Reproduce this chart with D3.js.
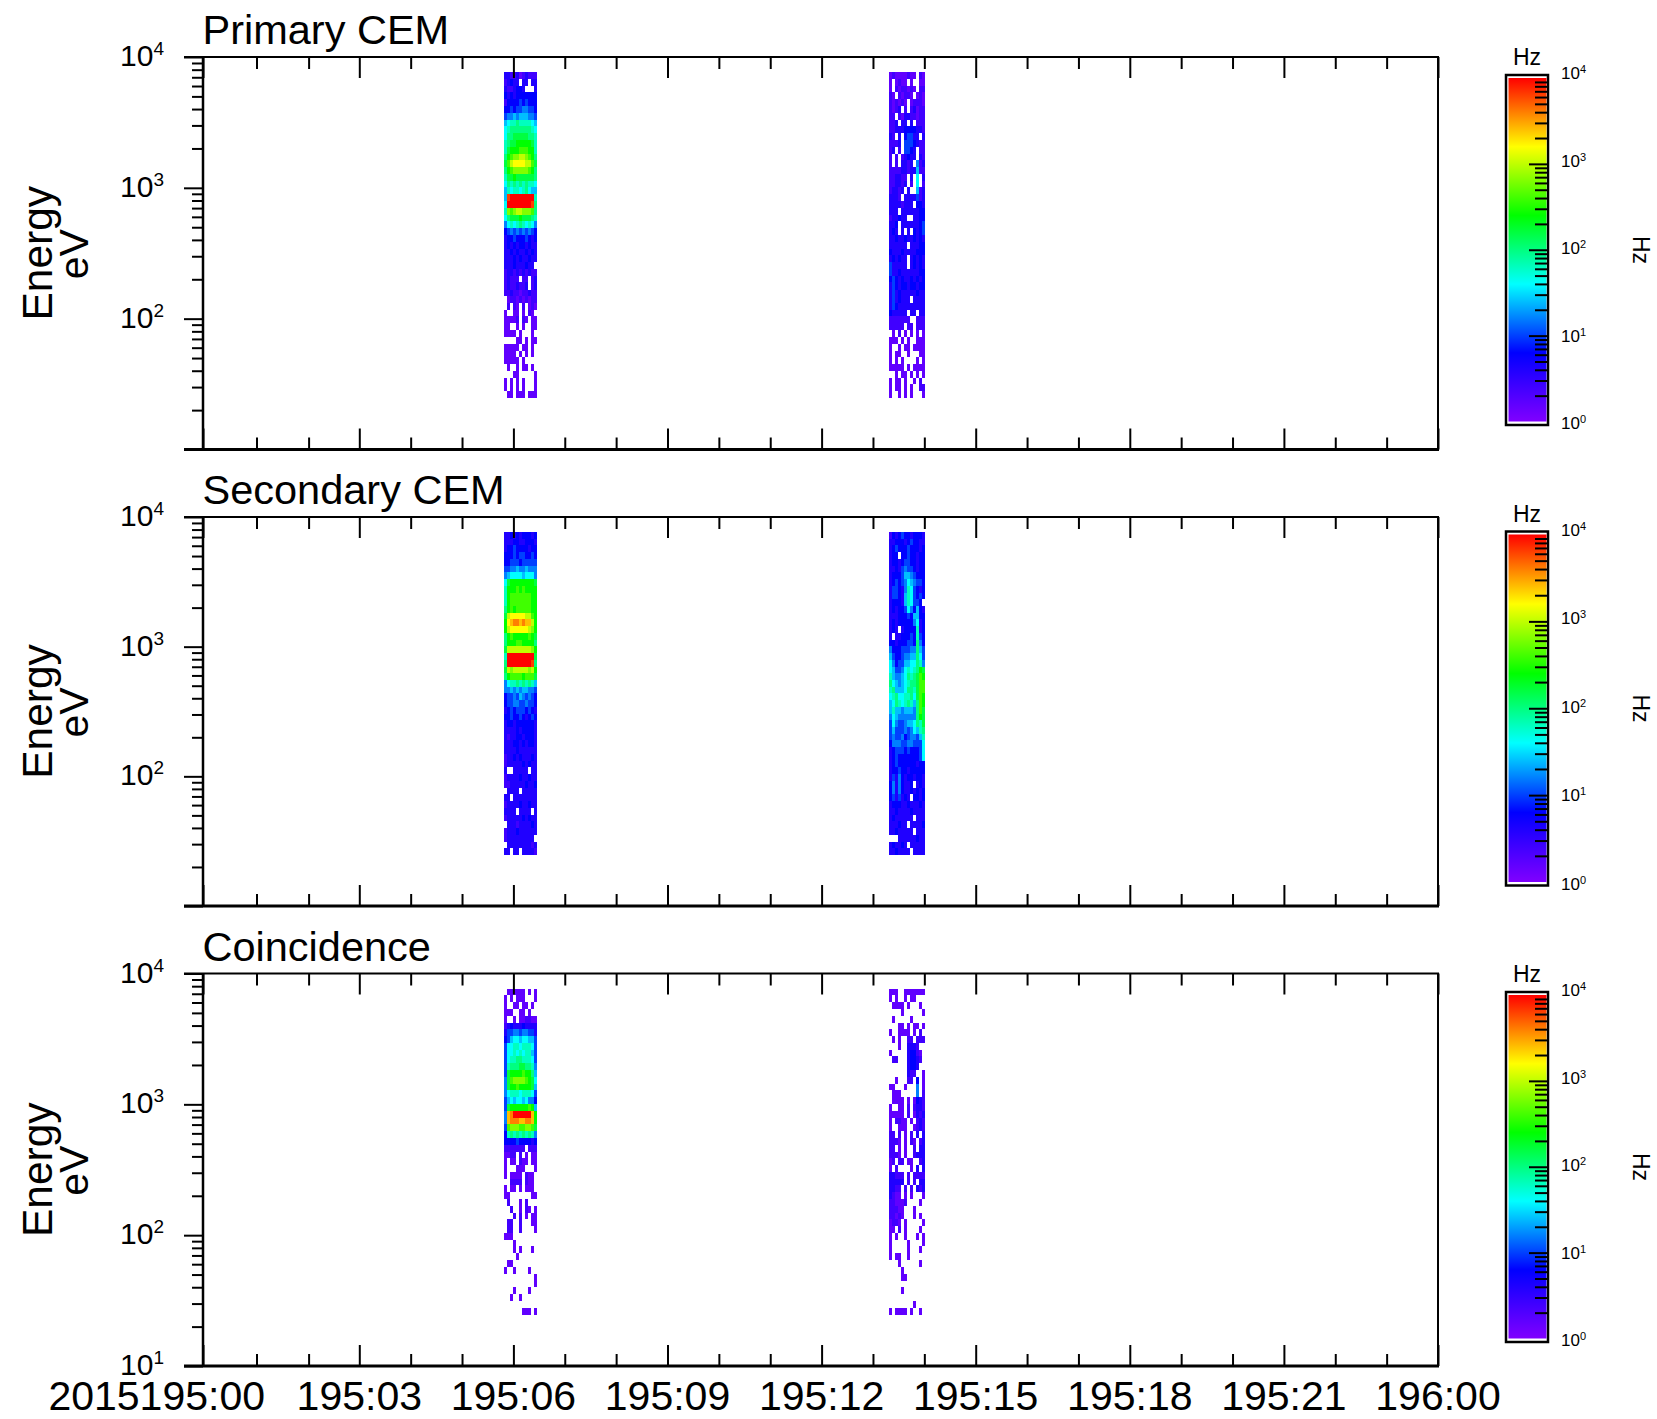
<!DOCTYPE html>
<html>
<head>
<meta charset="utf-8">
<script src="https://d3js.org/d3.v7.min.js"></script>
<style>
  body { margin: 0; background: #fff; }
  text { font-family: "Liberation Sans", Arial, sans-serif; fill: #000; }
</style>
</head>
<body>
<div id="chart"></div>
<script>
// energy channel edges (eV), top to bottom
var energyEdges = [7674, 6808, 6044, 5362, 4758, 4221, 3746, 3323, 2949, 2616, 2322, 2060, 1828,
  1622, 1439, 1277, 1133, 1006, 892, 792, 702, 623, 553, 491, 436, 386, 343, 304, 270, 240, 212,
  189, 167, 148, 132, 117, 104, 92, 82, 72.5, 64.3, 57.1, 50.7, 44.9, 39.9, 35.4, 31.4, 27.9, 24.7];

// sweep time edges (minutes after 195:00)
var timesA = [5.82, 5.88, 5.94, 6.00, 6.05, 6.11, 6.17, 6.23, 6.29, 6.35, 6.40, 6.46];
var timesB = [13.31, 13.37, 13.43, 13.49, 13.54, 13.60, 13.66, 13.72, 13.78, 13.84, 13.89, 13.95, 14.01];

// count rates: one char per cell, base 36, in steps of 0.2 decades of Hz. "." = no counts
var primaryA = ["33223123222", "23433.33.33", "3223443...3", "43434444444", "24444545444", "44545566554",
  "56676777665", "7899a999987", "89aaaaaaa98", "8aabbbbbaa9", "9abbcccccb9", "9bcccdddcc9",
  "acdeeffedca", "bdfggggffdb", "acdeeeeedca", "9bbcbbbbbba", "8a9a9a9a998", "7989989a877",
  "7jkkkkkkkk9", "8kkkkkkkkja", "9edeffeeeda", "8abbbcbbba9", "68989a98986", "45656565654",
  "34454445434", "34343443433", "33434334343", "33343433433", "3334333433.", "23323232322",
  "23222.22.23", "23223223.23", "22322122322", ".1221212122", ".2.21.2.121", "1..11.1.21.",
  "11112.21.11", "11..1.1..11", "1111.1...1.", "....11.1.11", "11111.11.1.", "1111.1.1.1.",
  "11111.1....", ".1..1.11.1.", "...11.....1", "1.1.1.1...1", "1.1.1.1...1", ".11.111.111"];
var primaryB = ["121111211.21", "1.1211.1..11", "1.2122121.22", "21.21221.121", "212121.12221", "2123.2.23122",
  "22.213322122", "223.33.3.222", "223334444332", "32.3.45533.3", "2223.5554322", "23.2.5543.22",
  "2.2.23433.32", "2.2.3323.623", "222233233722", "223322.3.8.3", "223323.2.8.2", "23323.3..723",
  "3332.3333523", "33332333.443", "333.33333344", "233433..3344", "334.33333345", "343.3.3.4345",
  "334334334343", "333333.33344", "433343333444", "343433.34343", "533333.34343", "533433333344",
  "454343343434", "354344344344", "353433333433", "3534333.3333", "354333333333", "433333.33.33",
  "2222222..222", "22222.22.222", ".1.2.1.1.1.1", "111.1.1..111", "1..1.11.1111", "1.11..1...11",
  "1.1.1....1.1", "11111.1.1111", "..1.11.1.1.1", "1.11.1..1.2.", "1.11.1.1..22", "1..1.1.1...1"];
var secondaryA = ["33434344434", "33344334443", "34454444344", "44454554454", "44555455555", "55667667666",
  "67888878886", "8bccccccccb", "9cccdcdcccc", "9cdddddddcc", "9cdddddddcc", "acdcdddddcc",
  "bfgggggffdc", "cghiihihhfc", "cfggggggfec", "acdcccccdcb", "acccddcccca", "bffffffffec",
  "9kkkkkkkkkb", "akkkkkkkkja", "bfefffffefc", "acddddcdddb", "6899a9a9a97", "66767677665",
  "45565765654", "45566556554", "34545554543", "44544543454", "34434444443", "33334344443",
  "32334434443", "33344343443", "33334333333", "23343433343", "23333343433", "3..33333.33",
  "23333433433", "22333334334", ".3333.33333", "33.33333333", "23333433433", "3333.3333.3",
  "23333343433", ".3332333343", "23334333333", "2333333333.", ".3333333323", "33.33.33332"];
var secondaryB = ["243454434443", "334443454433", "345444544434", "344.44544344", "344345544344", "334356554344",
  "344457765444", "345456876554", "355436985434", "355437985454", "34443798554.", "343445864743",
  "333444547744", "343444446834", "343.34444934", "3.3344454954", "443444554a64", "644455566a75",
  "754456677a85", "864557788a96", "875568989acb", "976678a9abdc", "a876789aabdd", "9a7778aa9bdd",
  "89a8899a8bdc", "78a989a97adc", "797767776adb", "687666666acb", "586556778a9b", "57555656879a",
  "565564566579", "466655665558", "345554544458", "345444444458", "345444444344", "344544344444",
  "353643443443", "46364334.343", "463643343434", "4535343.4434", "344433433343", "334333343333",
  "34333333.333", "333433.33334", "33433333.333", "...333333433", "343343.33333", "3343333.3333"];
var coincA = [".111111.1.1", "1.1.111...1", "1..11.11.1.", "111..11.1..", "1..1.112211", "23433343333",
  "35566566553", "45788788775", "58899899985", "58898989975", "5899aa99985", "59aaabbaa96",
  "5bccccdcca7", "6bdeeeedcb8", "6bccdccccb7", "68999899985", "57878878664", "5bccccccdc7",
  "6hikkkkkkhc", "6hiiihhiihc", "5deeeddeedb", "49a9a9a9a96", "44445444434", "2222222.222",
  "1122.2.1.11", "1.11.211.11", "1...111...1", "1.1111.211.", "..2222.211.", "1.11.1.111.",
  "11.......11", ".2...1.2...", "..2..1.21.1", "...2.2.1.11", ".22..2...11", ".22..2....1",
  "111........", "...1.......", "...1.1...1.", "....1......", ".11........", "1..1....1..",
  "..........1", "..........1", "...1....1..", "..1..1.....", "...........", "......111.1"];
var coincB = ["111..1111111", "1.1..1.11...", ".1111.1...1.", "....1......1", ".1.....1....", "...11.1.11.1",
  "1..1111.1.2.", ".1.1..22.222", "...1..3332..", "1.....34421.", ".22...34432.", "......3443..",
  "......322..1", "..1...22.4.1", "11...1...6.1", ".111.....6.2", ".1111.1.1432", "1..11.2.2332",
  "11111.2.1323", "1.2211.1.232", "1..111..1232", "22.2.1.2.3.3", "2221.1.21.23", "22.1.1..2.33",
  "2221.1..2333", "12.22.11..23", "1.2....1.3.3", "33222.2.2222", "33333.2.2.33", "3322.2.2.323",
  "3211.1.1...1", "221112....1.", "22211...1...", "22121...1.1.", "1221.1.....1", "11.2.1....1.",
  "1.1..1...1.1", "1.....1....1", "1.....1...1.", "1.11..1.....", "...1......1.", "....1.......",
  "....11......", "............", "....1.......", "............", "........1...", "1.1111.1..1."];

var panelTitles = ["Primary CEM", "Secondary CEM", "Coincidence"];
var panelBlocks = [[primaryA, primaryB], [secondaryA, secondaryB], [coincA, coincB]];
var xMajor = [0, 3, 6, 9, 12, 15, 18, 21, 24];
var xLabels = ["2015195:00", "195:03", "195:06", "195:09", "195:12", "195:15", "195:18", "195:21", "196:00"];
var xMinor = [1, 2, 4, 5, 7, 8, 10, 11, 13, 14, 16, 17, 19, 20, 22, 23];
var yDecades = [10000, 1000, 100, 10];
var yMinor = [9000, 8000, 7000, 6000, 5000, 4000, 3000, 2000, 900, 800, 700, 600, 500, 400, 300, 200,
  90, 80, 70, 60, 50, 40, 30, 20];
var barDecades = [10000, 1000, 100, 10, 1];
var barMinor = [9000, 8000, 7000, 6000, 5000, 4000, 3000, 2000, 900, 800, 700, 600, 500, 400, 300, 200,
  90, 80, 70, 60, 50, 40, 30, 20, 9, 8, 7, 6, 5, 4, 3, 2];
var colorLevels = [0, 0.8, 1.6, 2.4, 3.2, 4];
var colorStops = ["#8000ff", "#0000ff", "#00ffff", "#00ff00", "#ffff00", "#ff0000"];

// layout
var width = 1657;
var height = 1419;
var plotLeft = 203;
var plotRight = 1438;
var plotTop = [57, 517, 973.5];
var plotBottom = [449.5, 906, 1366];
var barTop = [75, 531.5, 992];
var barBottom = [425, 885.5, 1342];
var barLeft = 1506;
var barRight = 1548;
var levelStep = 0.2;

var svg = d3.select("#chart").append("svg")
  .attr("width", width)
  .attr("height", height)
  .style("display", "block");

// the first three minutes of the original axis are spaced a little wider
var xScale = d3.scaleLinear()
  .domain([0, 1, 2, 3, 24])
  .range([plotLeft, 256.5, 308.6, 359.3, plotRight]);
var colorScale = d3.scaleLinear().domain(colorLevels).range(colorStops);

// one shared gradient for the three color bars
var gradient = svg.append("defs").append("linearGradient")
  .attr("id", "rainbow")
  .attr("x1", 0).attr("y1", 1).attr("x2", 0).attr("y2", 0);
colorLevels.forEach(function(level, i) {
  gradient.append("stop")
    .attr("offset", level / 4)
    .attr("stop-color", colorStops[i]);
});

function styleTicks(g, strokeWidth) {
  g.select(".domain").remove();
  g.selectAll("line").attr("stroke", "#000").attr("stroke-width", strokeWidth);
  g.selectAll("text").remove();
}

// "10" with a raised exponent
function powerLabel(g, x, y, value, size, supSize, rise) {
  var label = g.append("text")
    .attr("x", x)
    .attr("y", y)
    .attr("font-size", size)
    .text("10");
  label.append("tspan")
    .attr("font-size", supSize)
    .attr("dy", -rise)
    .text(Math.round(Math.log10(value)));
}

function drawPanel(p) {
  var top = plotTop[p];
  var bottom = plotBottom[p];
  var yScale = d3.scaleLog().domain([10, 10000]).range([bottom, top]);
  var g = svg.append("g").attr("class", "panel");

  // spectrogram cells
  panelBlocks[p].forEach(function(block, b) {
    var times = b == 0 ? timesA : timesB;
    var rows = g.append("g").selectAll("g")
      .data(block)
      .enter().append("g");
    rows.selectAll("rect")
      .data(function(row, r) {
        return row.split("").map(function(ch, c) { return {ch: ch, r: r, c: c}; })
                  .filter(function(d) { return d.ch != "."; });
      })
      .enter().append("rect")
      .attr("x", function(d) { return xScale(times[d.c]); })
      .attr("width", function(d) { return xScale(times[d.c + 1]) - xScale(times[d.c]); })
      .attr("y", function(d) { return yScale(energyEdges[d.r]); })
      .attr("height", function(d) { return yScale(energyEdges[d.r + 1]) - yScale(energyEdges[d.r]); })
      .attr("fill", function(d) { return colorScale(parseInt(d.ch, 36) * levelStep); })
      .attr("shape-rendering", "crispEdges");
  });

  // x ticks, top and bottom
  g.append("g").attr("transform", "translate(0," + top + ")")
    .call(d3.axisBottom(xScale).tickValues(xMajor).tickSize(21).tickFormat(""))
    .call(styleTicks, 2);
  g.append("g").attr("transform", "translate(0," + top + ")")
    .call(d3.axisBottom(xScale).tickValues(xMinor).tickSize(12).tickFormat(""))
    .call(styleTicks, 2);
  g.append("g").attr("transform", "translate(0," + bottom + ")")
    .call(d3.axisTop(xScale).tickValues(xMajor).tickSize(21).tickFormat(""))
    .call(styleTicks, 2);
  g.append("g").attr("transform", "translate(0," + bottom + ")")
    .call(d3.axisTop(xScale).tickValues(xMinor).tickSize(12).tickFormat(""))
    .call(styleTicks, 2);

  // y ticks
  g.append("g").attr("transform", "translate(" + plotLeft + ",0)")
    .call(d3.axisLeft(yScale).tickValues(yDecades).tickSize(19).tickFormat(""))
    .call(styleTicks, 2);
  g.append("g").attr("transform", "translate(" + plotLeft + ",0)")
    .call(d3.axisLeft(yScale).tickValues(yMinor).tickSize(11).tickFormat(""))
    .call(styleTicks, 2);

  // frame
  g.append("line").attr("x1", plotLeft - 19).attr("x2", plotRight + 1).attr("y1", top).attr("y2", top)
    .attr("stroke", "#000").attr("stroke-width", 2);
  g.append("line").attr("x1", plotLeft - 19).attr("x2", plotRight + 1).attr("y1", bottom).attr("y2", bottom)
    .attr("stroke", "#000").attr("stroke-width", 3);
  g.append("line").attr("x1", plotLeft).attr("x2", plotLeft).attr("y1", top).attr("y2", bottom)
    .attr("stroke", "#000").attr("stroke-width", 2.5);
  g.append("line").attr("x1", plotRight).attr("x2", plotRight).attr("y1", top).attr("y2", bottom)
    .attr("stroke", "#000").attr("stroke-width", 2);

  // y tick labels, only the last panel labels 10^1
  yDecades.forEach(function(v) {
    if (v == 10 && p != 2) return;
    powerLabel(g, 120, yScale(v) + 9, v, 30, 19, 11);
  });

  g.append("text")
    .attr("x", plotLeft - 0.5)
    .attr("y", top - 13)
    .attr("font-size", 41.5)
    .text(panelTitles[p]);

  var mid = (top + bottom) / 2;
  g.append("text")
    .attr("transform", "translate(52," + mid + ") rotate(-90)")
    .attr("text-anchor", "middle")
    .attr("font-size", 42.5)
    .text("Energy");
  g.append("text")
    .attr("transform", "translate(88," + (mid + 1) + ") rotate(-90)")
    .attr("text-anchor", "middle")
    .attr("font-size", 41)
    .text("eV");

  // color bar
  var y0 = barTop[p];
  var y1 = barBottom[p];
  var cb = svg.append("g").attr("class", "colorbar");
  var cScale = d3.scaleLog().domain([1, 10000]).range([y1 - 3.5, y0 + 3]);
  var cLabel = d3.scaleLog().domain([1, 10000]).range([y1 + 4, y0 + 4]);
  cb.append("rect")
    .attr("x", barLeft).attr("y", y0)
    .attr("width", barRight - barLeft).attr("height", y1 - y0)
    .attr("fill", "#fff").attr("stroke", "#000").attr("stroke-width", 2.5);
  cb.append("rect")
    .attr("x", barLeft + 2.5).attr("y", y0 + 3)
    .attr("width", barRight - barLeft - 4).attr("height", y1 - y0 - 6.5)
    .attr("fill", "url(#rainbow)");
  cb.append("g").attr("transform", "translate(" + (barRight - 1) + ",0)")
    .call(d3.axisLeft(cScale).tickValues(barDecades.slice(1, 4)).tickSize(18).tickFormat(""))
    .call(styleTicks, 2);
  cb.append("g").attr("transform", "translate(" + (barRight - 1) + ",0)")
    .call(d3.axisLeft(cScale).tickValues(barMinor).tickSize(12).tickFormat(""))
    .call(styleTicks, 2);
  barDecades.forEach(function(v) {
    powerLabel(cb, 1561, cLabel(v), v, 17, 11, 6);
  });
  cb.append("text")
    .attr("x", (barLeft + barRight) / 2)
    .attr("y", y0 - 10)
    .attr("text-anchor", "middle")
    .attr("font-size", 23)
    .text("Hz");
  cb.append("text")
    .attr("transform", "translate(1633," + ((y0 + y1) / 2) + ") rotate(90)")
    .attr("text-anchor", "middle")
    .attr("font-size", 23)
    .text("Hz");
}

d3.range(panelTitles.length).forEach(drawPanel);

// bottom time labels, the long first label ends where "195:00" would
svg.append("g").selectAll("text")
  .data(xMajor)
  .enter().append("text")
  .attr("x", function(d) { return d == 0 ? xScale(d) + 62 : xScale(d); })
  .attr("y", 1410)
  .attr("text-anchor", function(d) { return d == 0 ? "end" : "middle"; })
  .attr("font-size", 41)
  .text(function(d, i) { return xLabels[i]; });
</script>
</body>
</html>
